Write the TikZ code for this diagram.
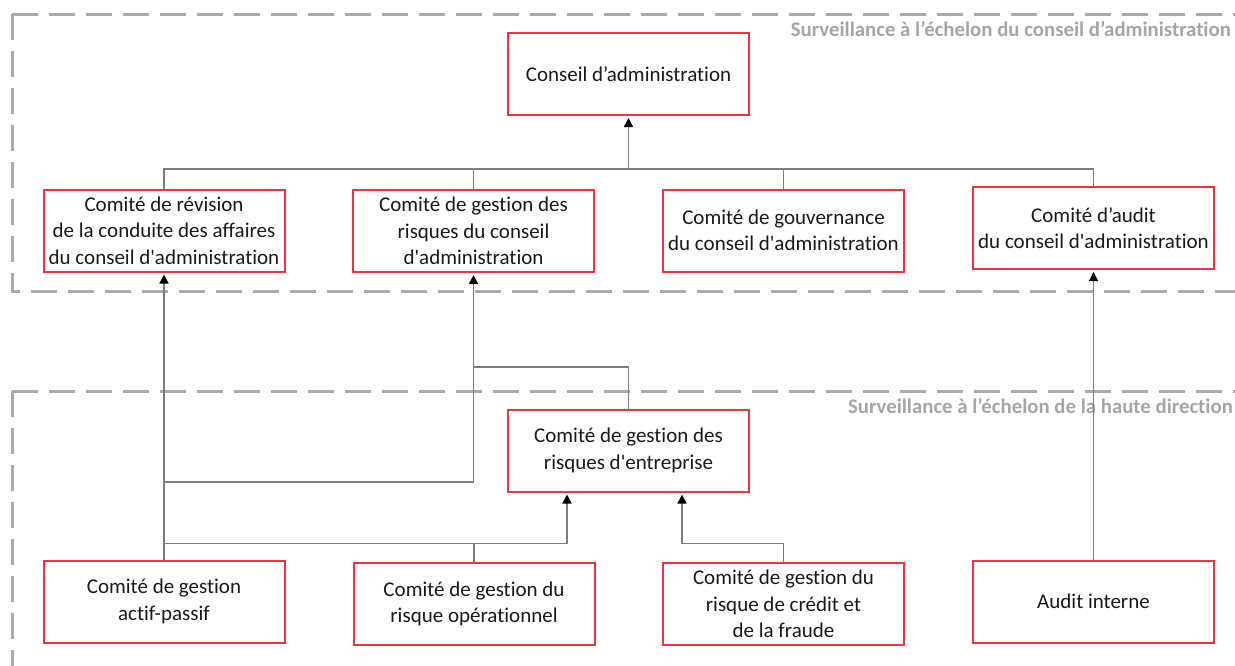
\documentclass[tikz,border=0pt]{standalone}
\usepackage{fontspec}
\setmainfont{Carlito}[Ligatures=NoCommon]
\usetikzlibrary{arrows.meta,calc}
\definecolor{boxred}{RGB}{240,50,60}
\definecolor{linegray}{RGB}{125,125,125}
\definecolor{dashgray}{RGB}{170,170,170}
\definecolor{labelgray}{RGB}{165,165,165}
\definecolor{txt}{RGB}{25,25,25}
\begin{document}
\begin{tikzpicture}[x=1pt,y=-1pt,
  orgbox/.style={draw=boxred,line width=2pt,minimum width=241pt,minimum height=82pt,
    align=center,inner sep=0pt,text=txt,font=\fontsize{21}{26.5}\selectfont},
  conn/.style={draw=linegray,line width=1.5pt},
  arr/.style={conn,-{Triangle[black,length=9pt,width=9pt]},shorten >=2pt},
  zone/.style={draw=dashgray,line width=3pt,dash pattern=on 26pt off 11pt},
  zonelabel/.style={text=labelgray,font=\bfseries\fontsize{20.8}{24}\selectfont,inner sep=0pt,anchor=east}]
\useasboundingbox (0,0) rectangle (1235,665);
% zones
\draw[zone] (12,14) -- (1260,14);
\draw[zone] (12,14) -- (12,291) -- (1260,291);
\draw[zone] (12,391) -- (1260,391);
\draw[zone] (12,391) -- (12,700);
\node[zonelabel] (zl1) at (1231,29) {Surveillance à l’échelon du conseil d’administration};
\node[zonelabel] (zl2) at (1233,406) {Surveillance à l’échelon de la haute direction};
% nodes
\node[orgbox] (ca) at (628.5,74) {Conseil d’administration};
\node[orgbox] (rev) at (164,230.5) {Comité de révision\\de la conduite des affaires\\du conseil d\textquotesingle administration};
\node[orgbox] (grc) at (473.5,231) {Comité de gestion des\\risques du conseil\\d\textquotesingle administration};
\node[orgbox] (gouv) at (783.5,230.5) {Comité de gouvernance\\du conseil d\textquotesingle administration};
\node[orgbox] (aud) at (1093.5,228) {Comité d’audit\\du conseil d\textquotesingle administration};
\node[orgbox] (erm) at (628.5,450.5) {Comité de gestion des\\risques d\textquotesingle entreprise};
\node[orgbox] (ap) at (164,601.5) {Comité de gestion\\actif-passif};
\node[orgbox] (op) at (474,604) {Comité de gestion du\\risque opérationnel};
\node[orgbox] (cr) at (783.5,604) {Comité de gestion du\\risque de crédit et\\de la fraude};
\node[orgbox] (ai) at (1093.5,601.5) {Audit interne};
% helper coordinates
\coordinate (bar) at (628.5,169);
\coordinate (h1) at (0,482);
\coordinate (h2) at (0,367);
\coordinate (h3) at (0,543.5);
\path (erm.south) ++(-61.5,0) coordinate (ein1);
\path (erm.south) ++(53.5,0) coordinate (ein2);
% top connectors
\draw[conn] (rev.north) -- (rev.north |- bar) -- (aud.north |- bar) -- (aud.north);
\draw[conn] (grc.north) -- (grc.north |- bar);
\draw[conn] (gouv.north) -- (gouv.north |- bar);
\draw[arr] (ca.south |- bar) -- (ca.south);
% bottom connectors
\draw[arr] (ap.north) -- (rev.south);
\draw[arr] (ap.north |- h1) -- (grc.south |- h1) -- (grc.south);
\draw[conn] (erm.north) -- (erm.north |- h2) -- (grc.south |- h2);
\draw[arr] (ap.north |- h3) -- (ein1 |- h3) -- (ein1);
\draw[conn] (op.north) -- (op.north |- h3);
\draw[arr] (cr.north) -- (cr.north |- h3) -- (ein2 |- h3) -- (ein2);
\draw[arr] (ai.north) -- (aud.south);
\end{tikzpicture}
\end{document}
